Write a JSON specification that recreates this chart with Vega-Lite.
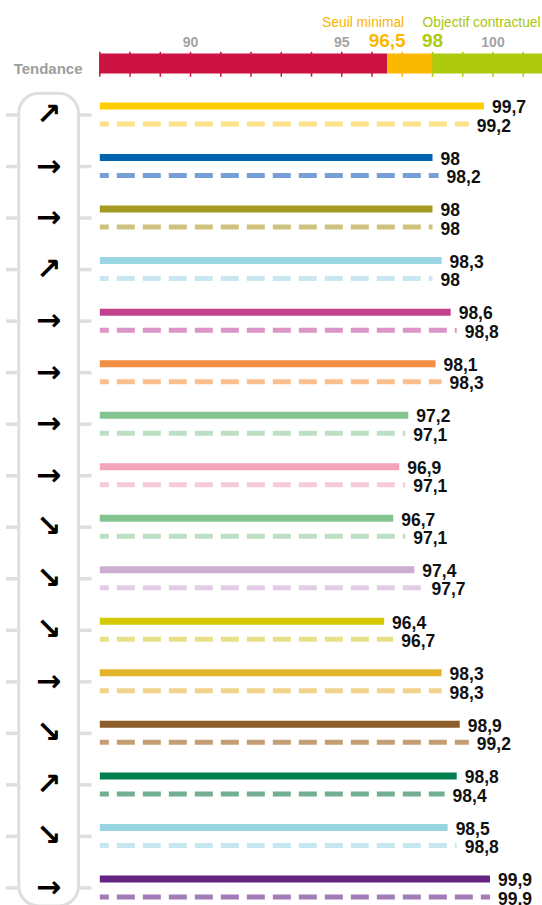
{
  "$schema": "https://vega.github.io/schema/vega-lite/v6.json",
  "width": 542,
  "height": 905,
  "autosize": {"type": "none"},
  "padding": 0,
  "background": "white",
  "config": {
    "view": {"stroke": null},
    "locale": {"number": {"decimal": ",", "thousands": " ", "grouping": [3], "currency": ["", " €"]}},
    "text": {"font": "Liberation Sans, sans-serif"}
  },
  "datasets": {
    "lines": [
      {"row": 1, "line": "1", "cur": 99.7, "prev": 99.2, "trend": "↗"},
      {"row": 2, "line": "2", "cur": 98, "prev": 98.2, "trend": "→"},
      {"row": 3, "line": "3", "cur": 98, "prev": 98, "trend": "→"},
      {"row": 4, "line": "3bis", "cur": 98.3, "prev": 98, "trend": "↗"},
      {"row": 5, "line": "4", "cur": 98.6, "prev": 98.8, "trend": "→"},
      {"row": 6, "line": "5", "cur": 98.1, "prev": 98.3, "trend": "→"},
      {"row": 7, "line": "6", "cur": 97.2, "prev": 97.1, "trend": "→"},
      {"row": 8, "line": "7", "cur": 96.9, "prev": 97.1, "trend": "→"},
      {"row": 9, "line": "7bis", "cur": 96.7, "prev": 97.1, "trend": "↘"},
      {"row": 10, "line": "8", "cur": 97.4, "prev": 97.7, "trend": "↘"},
      {"row": 11, "line": "9", "cur": 96.4, "prev": 96.7, "trend": "↘"},
      {"row": 12, "line": "10", "cur": 98.3, "prev": 98.3, "trend": "→"},
      {"row": 13, "line": "11", "cur": 98.9, "prev": 99.2, "trend": "↘"},
      {"row": 14, "line": "12", "cur": 98.8, "prev": 98.4, "trend": "↗"},
      {"row": 15, "line": "13", "cur": 98.5, "prev": 98.8, "trend": "↘"},
      {"row": 16, "line": "14", "cur": 99.9, "prev": 99.9, "trend": "→"}
    ],
    "band": [
      {"seg": "sous", "from": 87, "to": 96.5},
      {"seg": "seuil", "from": 96.5, "to": 98},
      {"seg": "objectif", "from": 98, "to": 101.62}
    ],
    "ticks": [
      {"v": 87, "seg": "sous"}, {"v": 88, "seg": "sous"}, {"v": 89, "seg": "sous"},
      {"v": 90, "seg": "sous"}, {"v": 91, "seg": "sous"}, {"v": 92, "seg": "sous"},
      {"v": 93, "seg": "sous"}, {"v": 94, "seg": "sous"}, {"v": 95, "seg": "sous"},
      {"v": 96, "seg": "sous"}, {"v": 97, "seg": "seuil"}, {"v": 98, "seg": "objectif"},
      {"v": 99, "seg": "objectif"}, {"v": 100, "seg": "objectif"}, {"v": 101, "seg": "objectif"}
    ],
    "tickLabels": [{"v": 90}, {"v": 95}, {"v": 100}]
  },
  "resolve": {"scale": {"color": "independent"}},
  "layer": [
    {
      "data": {"name": "ticks"},
      "mark": {"type": "rule", "strokeWidth": 1.5},
      "encoding": {
        "x": {"field": "v", "type": "quantitative", "scale": {"domain": [83.7, 101.62], "nice": false, "zero": false}, "axis": null},
        "y": {"datum": -0.226, "type": "quantitative", "scale": {"domain": [-1.232, 16.331], "reverse": true, "nice": false, "zero": false}, "axis": null},
        "y2": {"datum": 0.257},
        "color": {"field": "seg", "type": "nominal", "scale": {"domain": ["sous", "seuil", "objectif"], "range": ["#CC1241", "#FBB800", "#AECA0C"]}, "legend": null}
      }
    },
    {
      "data": {"name": "band"},
      "mark": {"type": "rule", "strokeWidth": 20, "strokeCap": "butt"},
      "encoding": {
        "x": {"field": "from", "type": "quantitative"},
        "x2": {"field": "to"},
        "y": {"datum": 0, "type": "quantitative"},
        "color": {"field": "seg", "type": "nominal", "scale": {"domain": ["sous", "seuil", "objectif"], "range": ["#CC1241", "#FBB800", "#AECA0C"]}, "legend": null}
      }
    },
    {
      "data": {"name": "tickLabels"},
      "mark": {"type": "text", "fontSize": 14, "fontWeight": "bold", "fill": "#a3a3a3", "align": "center", "baseline": "alphabetic"},
      "encoding": {
        "x": {"field": "v", "type": "quantitative"},
        "y": {"datum": -0.326, "type": "quantitative"},
        "text": {"field": "v", "type": "quantitative"}
      }
    },
    {
      "data": {"values": [{"v": 96.5}]},
      "mark": {"type": "text", "fontSize": 19, "fontWeight": "bold", "fill": "#FBB800", "align": "center", "baseline": "alphabetic"},
      "encoding": {
        "x": {"field": "v", "type": "quantitative"},
        "y": {"datum": -0.326, "type": "quantitative"},
        "text": {"field": "v", "type": "quantitative", "format": ".3~g"}
      }
    },
    {
      "data": {"values": [{"v": 98}]},
      "mark": {"type": "text", "fontSize": 19, "fontWeight": "bold", "fill": "#AECA0C", "align": "center", "baseline": "alphabetic"},
      "encoding": {
        "x": {"field": "v", "type": "quantitative"},
        "y": {"datum": -0.326, "type": "quantitative"},
        "text": {"field": "v", "type": "quantitative", "format": ".3~g"}
      }
    },
    {
      "data": {"values": [{"v": 96.5, "label": "Seuil minimal"}]},
      "mark": {"type": "text", "fontSize": 13.8, "fill": "#F7B500", "align": "right", "baseline": "alphabetic", "dx": 17},
      "encoding": {
        "x": {"field": "v", "type": "quantitative"},
        "y": {"datum": -0.708, "type": "quantitative"},
        "text": {"field": "label"}
      }
    },
    {
      "data": {"values": [{"v": 98, "label": "Objectif contractuel"}]},
      "mark": {"type": "text", "fontSize": 13.8, "fill": "#A8C60E", "align": "left", "baseline": "alphabetic", "dx": -10},
      "encoding": {
        "x": {"field": "v", "type": "quantitative"},
        "y": {"datum": -0.708, "type": "quantitative"},
        "text": {"field": "label"}
      }
    },
    {
      "data": {"values": [{"label": "Tendance"}]},
      "mark": {"type": "text", "fontSize": 15, "fontWeight": "bold", "fill": "#9d9d9d", "align": "center", "baseline": "alphabetic"},
      "encoding": {
        "x": {"datum": 85.29, "type": "quantitative"},
        "y": {"datum": 0.21, "type": "quantitative"},
        "text": {"field": "label"}
      }
    },
    {
      "data": {"name": "lines"},
      "mark": {"type": "rule", "strokeWidth": 3.5, "color": "#dedede", "strokeCap": "butt"},
      "encoding": {
        "y": {"field": "row", "type": "quantitative"},
        "x": {"datum": 83.898, "type": "quantitative"},
        "x2": {"datum": 84.262}
      }
    },
    {
      "data": {"name": "lines"},
      "mark": {"type": "rule", "strokeWidth": 3.5, "color": "#dedede", "strokeCap": "butt"},
      "encoding": {
        "y": {"field": "row", "type": "quantitative"},
        "x": {"datum": 86.345, "type": "quantitative"},
        "x2": {"datum": 86.725}
      }
    },
    {
      "data": {"values": [{"box": "tendance"}]},
      "mark": {"type": "rect", "fill": "white", "stroke": "#dedede", "strokeWidth": 3, "cornerRadius": 20},
      "encoding": {
        "x": {"datum": 84.32, "type": "quantitative"},
        "x2": {"datum": 86.295},
        "y": {"datum": 0.579, "type": "quantitative"},
        "y2": {"datum": 16.35}
      }
    },
    {
      "data": {"name": "lines"},
      "mark": {"type": "text", "font": "DejaVu Sans", "fontSize": 30, "fontWeight": "bold", "fill": "black", "align": "center", "baseline": "middle"},
      "encoding": {
        "x": {"datum": 85.303, "type": "quantitative"},
        "y": {"field": "row", "type": "quantitative"},
        "text": {"field": "trend"}
      }
    },
    {
      "data": {"name": "lines"},
      "transform": [{"calculate": "87", "as": "start"}],
      "mark": {"type": "rule", "strokeWidth": 7, "strokeCap": "butt", "yOffset": -9},
      "encoding": {
        "x": {"field": "start", "type": "quantitative"},
        "x2": {"field": "cur"},
        "y": {"field": "row", "type": "quantitative"},
        "color": {"field": "line", "type": "nominal", "legend": null, "scale": {
          "domain": ["1", "2", "3", "3bis", "4", "5", "6", "7", "7bis", "8", "9", "10", "11", "12", "13", "14"],
          "range": ["#FFCD00", "#0064B0", "#A59B22", "#9AD5E3", "#C2418D", "#F28F42", "#83C491", "#F3A4BA", "#83C491", "#CEADD2", "#D5C900", "#E3B32A", "#8D5E2A", "#00814F", "#98D4E2", "#662483"]}}
      }
    },
    {
      "data": {"name": "lines"},
      "transform": [{"calculate": "87", "as": "start"}],
      "mark": {"type": "rule", "strokeWidth": 5, "strokeCap": "butt", "yOffset": 9, "strokeDash": [18, 8], "strokeDashOffset": 9},
      "encoding": {
        "x": {"field": "start", "type": "quantitative"},
        "x2": {"field": "prev"},
        "y": {"field": "row", "type": "quantitative"},
        "color": {"field": "line", "type": "nominal", "legend": null, "scale": {
          "domain": ["1", "2", "3", "3bis", "4", "5", "6", "7", "7bis", "8", "9", "10", "11", "12", "13", "14"],
          "range": ["#FDE28A", "#759FD6", "#CFC27E", "#C9E7F0", "#DB95C6", "#FBBF8D", "#BDDFC3", "#F7CBD8", "#BDDFC3", "#E2CCE6", "#E8E088", "#F1D38C", "#C39E75", "#72AF92", "#C7E7F0", "#A27CB7"]}}
      }
    },
    {
      "data": {"name": "lines"},
      "mark": {"type": "text", "fontSize": 17.5, "fontWeight": "bold", "fill": "#111111", "align": "left", "baseline": "alphabetic", "dx": 8, "dy": -1.7},
      "encoding": {
        "x": {"field": "cur", "type": "quantitative"},
        "y": {"field": "row", "type": "quantitative"},
        "text": {"field": "cur", "type": "quantitative", "format": ".3~g"}
      }
    },
    {
      "data": {"name": "lines"},
      "mark": {"type": "text", "fontSize": 17.5, "fontWeight": "bold", "fill": "#111111", "align": "left", "baseline": "alphabetic", "dx": 8, "dy": 16.7},
      "encoding": {
        "x": {"field": "prev", "type": "quantitative"},
        "y": {"field": "row", "type": "quantitative"},
        "text": {"field": "prev", "type": "quantitative", "format": ".3~g"}
      }
    }
  ]
}
